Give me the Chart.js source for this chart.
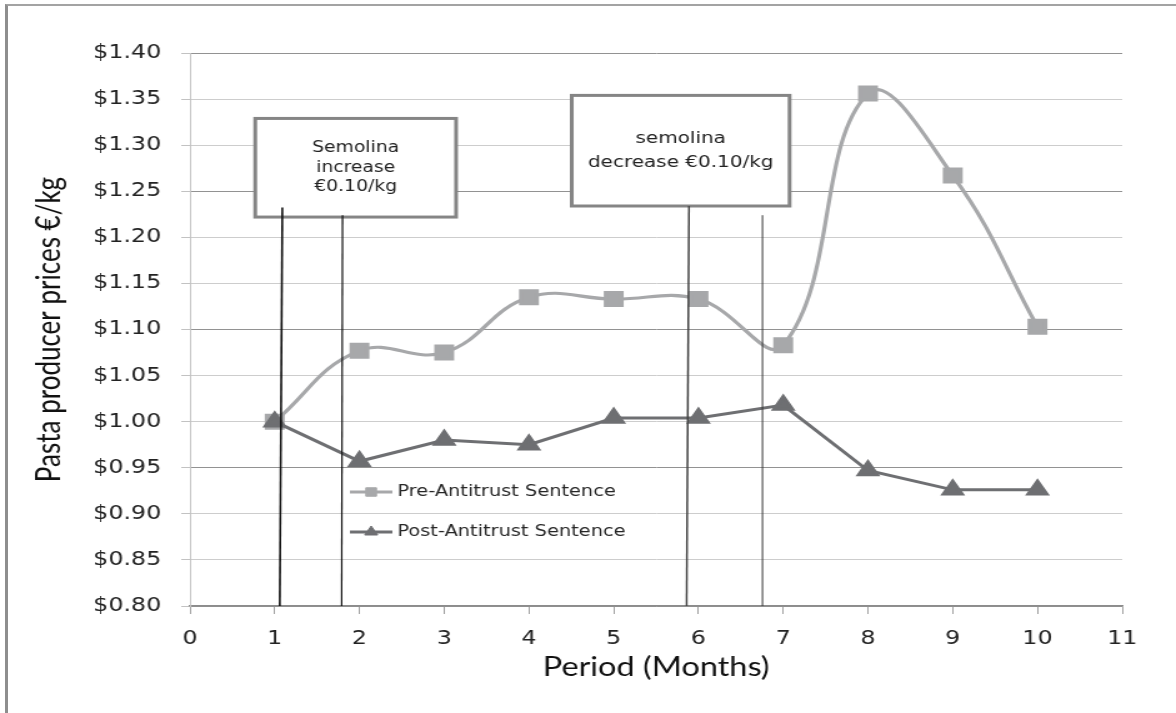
<!DOCTYPE html>
<html>
<head>
<meta charset="utf-8">
<title>Pasta producer prices</title>
<script src="https://cdn.jsdelivr.net/npm/chart.js@4"></script>
<style>
    html, body { margin: 0; background: #fff; overflow: hidden; }
    #frame {
        position: absolute; left: 5px; top: 4px; width: 1171px; height: 709px;
        border-left: 3px solid #8e8e8e; border-top: 2px solid #a3a3a3; box-sizing: border-box;
    }
    /* the chart is drawn narrow and widened, so the whole figure keeps its stretched look */
    #wrap {
        position: absolute; left: 0; top: 0; width: 941px; height: 713px;
        transform: scaleX(1.2497); transform-origin: 0 0;
    }
</style>
</head>
<body>
<div id="frame"></div>
<div id="wrap"><canvas id="prices"></canvas></div>
<script>
// months after the start and producer price per kg
const months = [1, 2, 3, 4, 5, 6, 7, 8, 9, 10];
const preSentence = [1.000, 1.077, 1.075, 1.135, 1.133, 1.133, 1.083, 1.356, 1.267, 1.103];
const postSentence = [1.000, 0.957, 0.980, 0.975, 1.004, 1.004, 1.018, 0.947, 0.926, 0.926];
const seriesNames = ['Pre-Antitrust Sentence', 'Post-Antitrust Sentence'];
const noteTexts = [['Semolina', 'increase', '€0.10/kg'], ['semolina', 'decrease €0.10/kg']];

// callout boxes, in axis units
const boxes = [
    { text: noteTexts[0], x0: 0.77, x1: 3.14, y0: 1.222, y1: 1.329, size: 15, gap: 19.5 },
    { text: noteTexts[1], x0: 4.505, x1: 7.075, y0: 1.234, y1: 1.354, size: 16, gap: 24 }
];
// thin vertical marks under the boxes
const marks = [
    { top: 1.2325, xTop: 1.09, xBottom: 1.06, color: '#111', width: 1.6 },
    { top: 1.224, xTop: 1.80, xBottom: 1.79, color: '#111', width: 1.2 },
    { top: 1.234, xTop: 5.888, xBottom: 5.86, color: '#444', width: 1.5 },
    { top: 1.224, xTop: 6.755, xBottom: 6.755, color: '#333', width: 1 }
];

const preColor = '#a7a8aa';
const postColor = '#6e6f72';

function pairs(xs, ys) {
    return xs.map((m, i) => ({ x: m, y: ys[i] }));
}

const notes = {
    id: 'notes',
    afterDatasetsDraw(chart) {
        const { ctx, scales: { x, y } } = chart;
        ctx.save();

        boxes.forEach(b => {
            const left = x.getPixelForValue(b.x0), right = x.getPixelForValue(b.x1);
            const top = y.getPixelForValue(b.y1), bottom = y.getPixelForValue(b.y0);
            ctx.fillStyle = '#fff';
            ctx.fillRect(left, top, right - left, bottom - top);
            ctx.strokeStyle = '#858585';
            ctx.lineWidth = 3;
            ctx.strokeRect(left, top, right - left, bottom - top);
            ctx.fillStyle = '#222';
            ctx.font = b.size + 'px "DejaVu Sans"';
            ctx.textAlign = 'center';
            ctx.textBaseline = 'middle';
            const cx = (left + right) / 2, cy = (top + bottom) / 2;
            b.text.forEach((t, i) => {
                ctx.fillText(t, cx, cy + (i - (b.text.length - 1) / 2) * b.gap);
            });
        });

        marks.forEach(m => {
            ctx.beginPath();
            ctx.strokeStyle = m.color;
            ctx.lineWidth = m.width;
            ctx.moveTo(x.getPixelForValue(m.xTop), y.getPixelForValue(m.top));
            ctx.lineTo(x.getPixelForValue(m.xBottom), y.bottom);
            ctx.stroke();
        });

        // legend inside the plot
        const lx = 280, ly = [492, 532];
        chart.data.datasets.forEach((ds, i) => {
            ctx.beginPath();
            ctx.strokeStyle = ds.borderColor;
            ctx.lineWidth = 3;
            ctx.moveTo(lx, ly[i]);
            ctx.lineTo(lx + 34, ly[i]);
            ctx.stroke();
            ctx.fillStyle = ds.pointBackgroundColor;
            ctx.strokeStyle = ds.pointBackgroundColor;
            ctx.lineWidth = 1;
            Chart.helpers.drawPoint(ctx, { pointStyle: ds.pointStyle, radius: 6, rotation: 0, borderWidth: 1 }, lx + 17, ly[i]);
            ctx.fillStyle = '#262626';
            ctx.font = '15.5px "DejaVu Sans"';
            ctx.textAlign = 'left';
            ctx.textBaseline = 'middle';
            ctx.fillText(ds.label, lx + 38, ly[i]);
        });

        ctx.restore();
    }
};

Chart.defaults.font.family = '"DejaVu Sans", Verdana, sans-serif';
Chart.defaults.color = '#222';

new Chart(document.getElementById('prices'), {
    type: 'line',
    data: {
        datasets: [{
            label: seriesNames[0],
            data: pairs(months, preSentence),
            borderColor: preColor,
            borderWidth: 3.2,
            pointStyle: 'rect',
            pointRadius: 9,
            pointBackgroundColor: preColor,
            pointBorderColor: preColor,
            tension: 0.42,
            order: 2
        }, {
            label: seriesNames[1],
            data: pairs(months, postSentence),
            borderColor: postColor,
            borderWidth: 3,
            pointStyle: 'triangle',
            pointRadius: 8.5,
            pointBackgroundColor: postColor,
            pointBorderColor: postColor,
            tension: 0,
            order: 1
        }]
    },
    options: {
        responsive: true,
        maintainAspectRatio: false,
        animation: false,
        layout: { padding: { top: 53, right: 43, bottom: 0, left: 0 } },
        plugins: {
            legend: { display: false },
            tooltip: { enabled: false }
        },
        scales: {
            x: {
                type: 'linear',
                min: 0,
                max: 11,
                ticks: { stepSize: 1, autoSkip: false, maxRotation: 0, padding: 14, font: { size: 19 } },
                grid: { drawOnChartArea: false, drawTicks: true, tickLength: 8, tickColor: '#a0a0a0' },
                border: { color: '#8c8c8c', width: 1.5 },
                title: {
                    display: true,
                    text: 'Period (Months)',
                    font: { family: 'Lato', size: 26 },
                    color: '#111',
                    padding: 30
                },
                afterFit: s => { s.height = 107; }
            },
            y: {
                min: 0.8,
                max: 1.4,
                ticks: {
                    stepSize: 0.05,
                    padding: 16,
                    font: { size: 19 },
                    callback: v => '$' + v.toFixed(2)
                },
                grid: {
                    color: c => c.index % 3 === 0 ? '#929292' : '#cdcdcd',
                    tickLength: 7,
                    tickColor: '#c2c2c2'
                },
                border: { color: '#c4c4c4', width: 1 },
                title: {
                    display: true,
                    text: 'Pasta producer prices €/kg',
                    font: { family: 'Lato', size: 26 },
                    color: '#111',
                    padding: 24
                },
                afterFit: s => { s.width = 152; }
            }
        }
    },
    plugins: [notes]
});
</script>
</body>
</html>
